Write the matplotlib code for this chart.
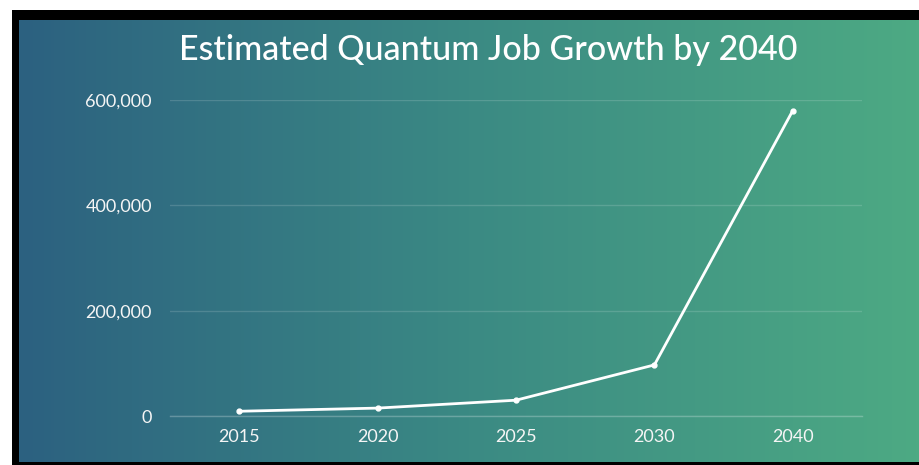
import numpy as np
import matplotlib.pyplot as plt
from matplotlib.colors import LinearSegmentedColormap
from matplotlib.patches import Rectangle
from matplotlib.ticker import FuncFormatter

# Projected quantum computing jobs
years = ['2015', '2020', '2025', '2030', '2040']
jobs = [9000, 15000, 30000, 97000, 580000]
y_ticks = [0, 200000, 400000, 600000]

W, H = 920, 465
fig = plt.figure(figsize=(W / 100, H / 100), dpi=100, facecolor='white')

# black frame
fig.patches.append(Rectangle((12 / W, 0), 1 - 12 / W, 1 - 10 / H,
                             transform=fig.transFigure, facecolor='black',
                             edgecolor='none', zorder=-3))

# horizontal gradient panel
bg = fig.add_axes([19 / W, 3 / H, 1 - 19 / W, (H - 20 - 3) / H], zorder=-2)
cmap = LinearSegmentedColormap.from_list('panel', ['#2c6180', '#3b8a84', '#4daa83'])
bg.imshow(np.linspace(0, 1, 256)[None, :], aspect='auto', cmap=cmap,
          extent=[0, 1, 0, 1])
bg.axis('off')

ax = fig.add_axes([170 / W, (H - 416) / H, 692 / W, 316 / H])
ax.set_facecolor('none')
x = np.arange(len(years))
ax.plot(x, jobs, color='white', lw=2, marker='o', ms=3.5, zorder=3,
        solid_capstyle='round')

ax.set_xlim(-0.5, len(years) - 0.5)
ax.set_ylim(0, 600000)
ax.set_xticks(x, years)
ax.set_yticks(y_ticks)
ax.yaxis.set_major_formatter(FuncFormatter(lambda v, p: f'{int(v):,}'))
ax.grid(axis='y', color='white', alpha=0.15, lw=1)
ax.tick_params(length=0, labelsize=13, labelcolor='#f5f5f5', pad=9)
ax.tick_params(axis='y', pad=13)
for lbl in ax.get_xticklabels() + ax.get_yticklabels():
    lbl.set_fontfamily('Lato')
for s in ax.spines.values():
    s.set_visible(False)
ax.set_axisbelow(True)
ax.axhline(0, color='white', alpha=0.25, lw=1, clip_on=False)

fig.text(488 / W, 1 - 50 / H, 'Estimated Quantum Job Growth by 2040',
         ha='center', va='center', color='white', fontsize=24.5,
         fontfamily='Lato', fontweight='medium')

fig.savefig('out.png', dpi=100, facecolor='white')
